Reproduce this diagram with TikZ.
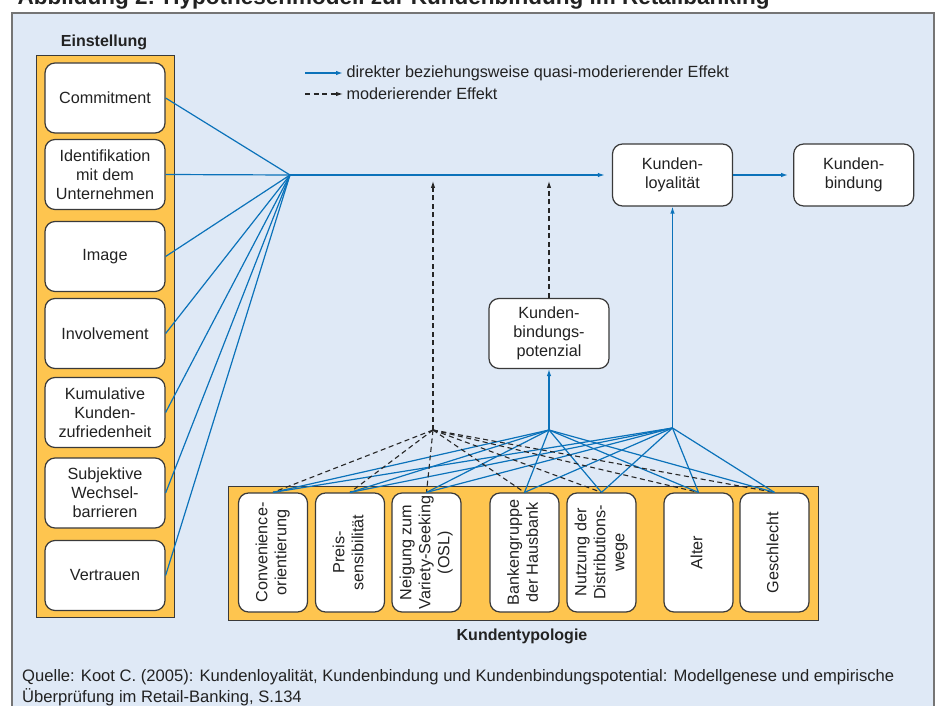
\documentclass[tikz,border=0pt]{standalone}
\usepackage{fontspec}
\setmainfont{Liberation Sans}
\usepackage{graphicx}
\usetikzlibrary{arrows.meta, positioning}

\definecolor{hgblau}{HTML}{DFE9F6}
\definecolor{kgelb}{HTML}{FEC54F}
\definecolor{pfeilblau}{HTML}{0B72BA}
\definecolor{rahmen}{HTML}{3A3A3A}
\definecolor{schrift}{HTML}{222222}

\newcommand{\vtext}[1]{\rotatebox{90}{\begin{tabular}{@{}c@{}}#1\end{tabular}}}

\tikzset{
  kasten/.style={draw=rahmen, fill=white, line width=1.2pt, rounded corners=10pt,
    align=center, minimum width=120pt, minimum height=70pt, inner sep=1pt},
  typ/.style={draw=rahmen, fill=white, line width=1.2pt, rounded corners=10pt,
    minimum width=69pt, minimum height=119pt, inner sep=0pt},
  feld/.style={draw=rahmen, fill=kgelb, line width=1pt},
  direkt/.style={pfeilblau, line width=1.2pt},
  moder/.style={black!85, line width=1.1pt, dash pattern=on 5pt off 3.5pt},
  spitze/.style={-{Latex[length=7pt,width=4.5pt]}},
}

\begin{document}
\begin{tikzpicture}[x=1pt, y=-1pt, font=\fontsize{16.2}{19}\selectfont, text=schrift]
  \useasboundingbox (0,0) rectangle (938,706);
  % Rahmen und Titel
  \draw[rahmen!70, fill=hgblau, line width=1.2pt] (12,13) rectangle (934,730);
  \node[anchor=base west, font=\bfseries\fontsize{22.5}{26}\selectfont] (titel) at (14,5)
    {Abbildung 2: Hypothesenmodell zur Kundenbindung im Retailbanking};

  % Felder
  \draw[feld] (36,56) rectangle (174,617);
  \draw[feld] (228,486) rectangle (818,620);
  \node[font=\bfseries\fontsize{16}{19}\selectfont] (einst) at (104,42) {Einstellung};
  \node[font=\bfseries\fontsize{16}{19}\selectfont] (typo) at (522,636) {Kundentypologie};

  % Legende
  \coordinate (lega) at (305,73);
  \coordinate (legb) at (305,94);
  \node[anchor=west] (legdir) at (343,73) {direkter beziehungsweise quasi-moderierender Effekt};
  \node[anchor=west] (legmod) at (343,94) {moderierender Effekt};
  \draw[direkt, line width=2pt, spitze] (lega) -- (legdir.west);
  \draw[moder, spitze] (legb) -- (legmod.west);

  % Einstellung
  \foreach \n/\y/\t in {com/98/Commitment, ide/174.5/{Identifikation\\mit dem\\Unternehmen},
      ima/256.5/Image, inv/333.5/Involvement, kum/412.5/{Kumulative\\Kunden-\\zufriedenheit},
      sub/493/{Subjektive\\Wechsel-\\barrieren}, ver/575.5/Vertrauen}
    \node[kasten] (\n) at (105,\y) {\t};

  % Kunden
  \node[kasten, minimum height=62pt] (loyal) at (672.5,175) {Kunden-\\loyalität};
  \node[kasten, minimum height=62pt, right=60pt of loyal] (bind) {Kunden-\\bindung};
  \node[kasten] (pot) at (549,333.5) {Kunden-\\bindungs-\\potenzial};

  % Kundentypologie
  \foreach \n/\x/\t in {con/273/{Convenience-\\orientierung}, pre/350/{Preis-\\sensibilität},
      nei/426.5/{Neigung zum\\Variety-Seeking\\(OSL)}, ban/524.5/{Bankengruppe\\der Hausbank},
      nut/601.5/{Nutzung der\\Distributions-\\wege}, alt/698.5/Alter, ges/774.5/Geschlecht}
    \node[typ] (\n) at (\x,552.5) {\vtext{\t}};

  % Effekte der Einstellung
  \coordinate (hub) at (290,175);
  \foreach \n in {com,ide,ima,inv,kum,sub,ver}
    \draw[direkt] (\n.east) -- (hub);
  \draw[direkt, line width=1.8pt, spitze, shorten >=7pt] (hub) -- (loyal.west);
  \draw[direkt, line width=1.8pt, spitze, shorten >=5pt] (loyal) -- (bind);

  % Effekte der Kundentypologie
  \coordinate (mhub) at (433,430);
  \coordinate (ahub) at (549,430);
  \coordinate (bhub) at (672.5,428);
  \foreach \n in {con,pre,nei,ban,nut,alt,ges} {
    \draw[moder] (mhub) -- (\n.north);
    \draw[direkt] (ahub) -- (\n.north);
    \draw[direkt] (bhub) -- (\n.north);
  }
  \draw[direkt, spitze] (ahub) -- (pot.south);
  \draw[direkt, spitze] (bhub) -- (loyal.south);
  \coordinate (mziel) at (433,181);
  \draw[moder, spitze] (mhub) -- (mziel);
  \draw[moder, spitze] (pot.north) -- (pot.north |- mziel);

  % Quelle
  \node[anchor=base west, align=left, font=\fontsize{16.6}{21}\selectfont, inner sep=0pt] (quelle) at (22,702)
    {Quelle: Koot C. (2005): Kundenloyalität, Kundenbindung und Kundenbindungspotential: Modellgenese und empirische\\
     Überprüfung im Retail-Banking, S.134};
\end{tikzpicture}
\end{document}
